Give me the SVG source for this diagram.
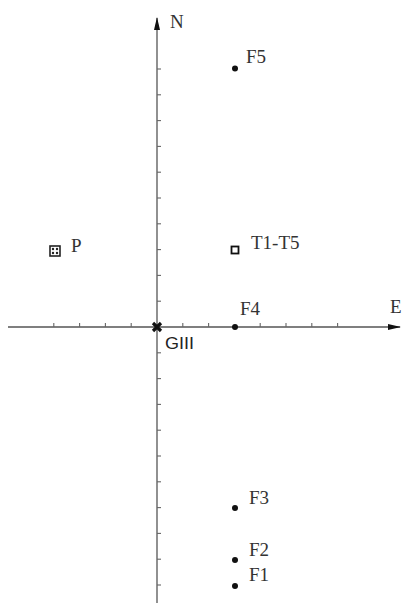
<svg xmlns="http://www.w3.org/2000/svg" width="405" height="605" viewBox="0 0 405 605">
<style>
.ax{stroke:#555;stroke-width:1.3;fill:none}
.tk{stroke:#666;stroke-width:1.1}
.lbl{font-family:"Liberation Serif",serif;font-size:19px;fill:#333}
.dot{fill:#111}
</style>
<defs>
<marker id="arr" markerWidth="13" markerHeight="8" refX="12" refY="4" orient="auto" markerUnits="userSpaceOnUse">
<path d="M0,1 L13,4 L0,7 Z" fill="#111"/>
</marker>
</defs>
<rect width="405" height="605" fill="#fff"/>
<g id="connectors">
<line class="ax" x1="8" y1="327" x2="400" y2="327" marker-end="url(#arr)"/>
<line class="ax" x1="157" y1="603" x2="157" y2="18" marker-end="url(#arr)"/>
<g id="ticks-x" class="tk">
<line x1="53.8" y1="327" x2="53.8" y2="323"/>
<line x1="79.6" y1="327" x2="79.6" y2="323"/>
<line x1="105.4" y1="327" x2="105.4" y2="323"/>
<line x1="131.2" y1="327" x2="131.2" y2="323"/>
<line x1="182.8" y1="327" x2="182.8" y2="323"/>
<line x1="208.6" y1="327" x2="208.6" y2="323"/>
<line x1="260.2" y1="327" x2="260.2" y2="323"/>
<line x1="286" y1="327" x2="286" y2="323"/>
<line x1="311.8" y1="327" x2="311.8" y2="323"/>
<line x1="337.6" y1="327" x2="337.6" y2="323"/>
</g>
<g id="ticks-y" class="tk">
<line x1="157" y1="69" x2="161" y2="69"/>
<line x1="157" y1="94.8" x2="161" y2="94.8"/>
<line x1="157" y1="120.6" x2="161" y2="120.6"/>
<line x1="157" y1="146.4" x2="161" y2="146.4"/>
<line x1="157" y1="172.2" x2="161" y2="172.2"/>
<line x1="157" y1="198" x2="161" y2="198"/>
<line x1="157" y1="223.8" x2="161" y2="223.8"/>
<line x1="157" y1="249.6" x2="161" y2="249.6"/>
<line x1="157" y1="275.4" x2="161" y2="275.4"/>
<line x1="157" y1="301.2" x2="161" y2="301.2"/>
<line x1="157" y1="352.8" x2="161" y2="352.8"/>
<line x1="157" y1="378.6" x2="161" y2="378.6"/>
<line x1="157" y1="404.4" x2="161" y2="404.4"/>
<line x1="157" y1="430.2" x2="161" y2="430.2"/>
<line x1="157" y1="456" x2="161" y2="456"/>
<line x1="157" y1="481.8" x2="161" y2="481.8"/>
<line x1="157" y1="507.6" x2="161" y2="507.6"/>
<line x1="157" y1="533.4" x2="161" y2="533.4"/>
<line x1="157" y1="559.2" x2="161" y2="559.2"/>
<line x1="157" y1="585" x2="161" y2="585"/>
</g>
</g>
<g id="axis-N"><text class="lbl" x="170" y="28">N</text></g>
<g id="axis-E"><text class="lbl" x="390" y="313">E</text></g>
<g id="GIII">
<path d="M153,323 L161,331 M161,323 L153,331" stroke="#111" stroke-width="3.2"/>
<text x="165" y="349" font-family="Liberation Sans,Arial,sans-serif" font-size="17" fill="#222" textLength="29" lengthAdjust="spacingAndGlyphs">GIII</text>
</g>
<g id="P">
<rect x="50" y="246" width="10" height="10" fill="#fff" stroke="#222" stroke-width="1.6"/>
<circle cx="53" cy="249" r="1.2" fill="#222"/><circle cx="57" cy="249" r="1.2" fill="#222"/>
<circle cx="53" cy="253" r="1.2" fill="#222"/><circle cx="57" cy="253" r="1.2" fill="#222"/>
<text class="lbl" x="71" y="252">P</text>
</g>
<g id="T1-T5">
<rect x="231.5" y="246.5" width="7" height="7" fill="#fff" stroke="#111" stroke-width="1.8"/>
<text class="lbl" x="251" y="249">T1-T5</text>
</g>
<g id="F5"><circle class="dot" cx="235" cy="68.5" r="3"/><text class="lbl" x="246" y="63">F5</text></g>
<g id="F4"><circle class="dot" cx="235" cy="327" r="3"/><text class="lbl" x="240" y="315">F4</text></g>
<g id="F3"><circle class="dot" cx="235" cy="508" r="3"/><text class="lbl" x="249" y="504">F3</text></g>
<g id="F2"><circle class="dot" cx="235" cy="560" r="3"/><text class="lbl" x="249" y="556">F2</text></g>
<g id="F1"><circle class="dot" cx="235" cy="586" r="3"/><text class="lbl" x="249" y="581">F1</text></g>
</svg>
